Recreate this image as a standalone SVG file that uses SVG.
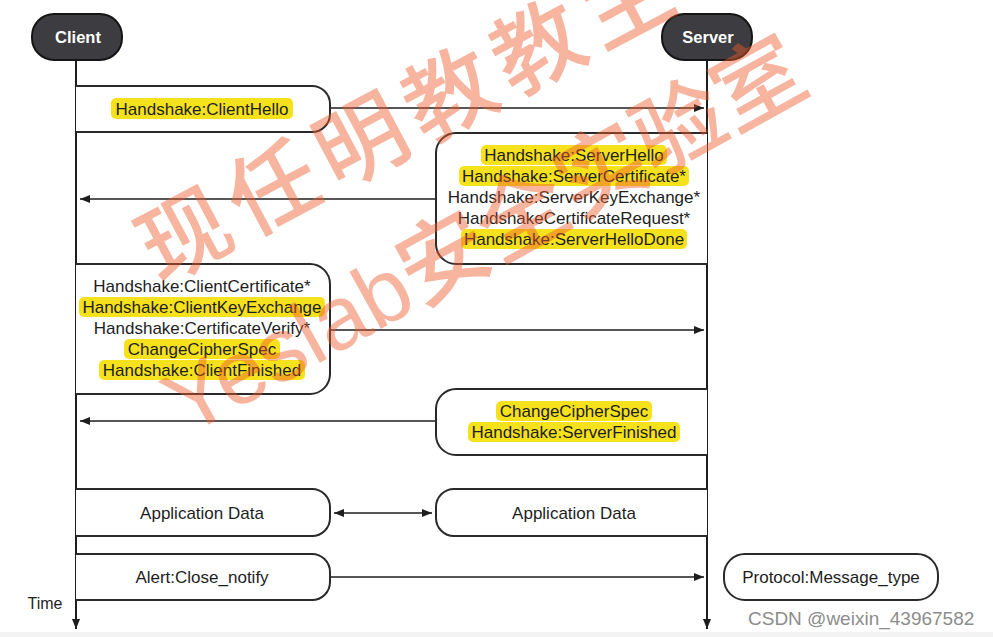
<svg xmlns="http://www.w3.org/2000/svg" width="993" height="637" viewBox="0 0 993 637">
<style>
  .bg { fill: #ffffff; }
  .actor { fill: #3d3c40; stroke: #151515; stroke-width: 2; }
  .actor-t { font-family: "Liberation Sans", Arial, sans-serif; font-weight: bold; font-size: 16.5px; fill: #ffffff; text-anchor: middle; }
  .box { fill: #ffffff; stroke: #2a2a2a; stroke-width: 2; }
  .t { font-family: "Liberation Sans", Arial, sans-serif; font-size: 17px; fill: #1e1e1e; text-anchor: middle; }
  .hl { fill: #f6e21c; }
  .life { stroke: #1e1e1e; stroke-width: 2; fill: none; }
  .msg { stroke: #1e1e1e; stroke-width: 1.6; fill: none; }
  .wm { font-family: "Liberation Sans", "Noto Sans CJK SC", sans-serif; font-weight: 500; fill: #ee5a2a; fill-opacity: 0.45; }
  .csdn { font-family: "Liberation Sans", Arial, sans-serif; font-size: 19px; fill: #8c8c8c; }
</style>
<defs>
  <marker id="ah" viewBox="0 0 10 8" refX="10" refY="4" markerWidth="10" markerHeight="8" orient="auto-start-reverse" markerUnits="userSpaceOnUse">
    <path d="M0,0 L10,4 L0,8 z" fill="#1e1e1e"/>
  </marker>
</defs>
<rect class="bg" x="0" y="0" width="993" height="637"/>
<rect x="0" y="632" width="993" height="5" fill="#f3f3f3"/>

<g id="connectors">
  <line class="life" x1="76" y1="60" x2="76" y2="629" marker-end="url(#ah)"/>
  <line class="life" x1="707" y1="60" x2="707" y2="629" marker-end="url(#ah)"/>
  <line class="msg" x1="330" y1="108" x2="704" y2="108" marker-end="url(#ah)"/>
  <line class="msg" x1="436" y1="199" x2="80" y2="199" marker-end="url(#ah)"/>
  <line class="msg" x1="330" y1="330" x2="704" y2="330" marker-end="url(#ah)"/>
  <line class="msg" x1="436" y1="421" x2="80" y2="421" marker-end="url(#ah)"/>
  <line class="msg" x1="334" y1="513" x2="432" y2="513" marker-start="url(#ah)" marker-end="url(#ah)"/>
  <line class="msg" x1="330" y1="577" x2="704" y2="577" marker-end="url(#ah)"/>
</g>

<g id="node-client">
  <rect class="actor" x="32" y="14" width="90" height="46" rx="22"/>
  <text class="actor-t" x="78" y="43">Client</text>
</g>
<g id="node-server">
  <rect class="actor" x="662" y="14" width="90" height="46" rx="22"/>
  <text class="actor-t" x="708" y="43">Server</text>
</g>

<g id="msg-clienthello">
  <path class="box" d="M76,86 H312 A18,18 0 0 1 330,104 V114 A18,18 0 0 1 312,132 H76"/>
  <rect class="hl" x="111" y="98" width="182" height="21" rx="5"/>
  <text class="t" x="202" y="115">Handshake:ClientHello</text>
</g>

<g id="msg-serverhello">
  <path class="box" d="M707,133 H456 A20,20 0 0 0 436,153 V244 A20,20 0 0 0 456,264 H707"/>
  <rect class="hl" x="481" y="145" width="186" height="20" rx="5"/>
  <rect class="hl" x="459" y="166" width="230" height="20" rx="5"/>
  <rect class="hl" x="461" y="229" width="226" height="20" rx="5"/>
  <text class="t" x="574" y="161">Handshake:ServerHello</text>
  <text class="t" x="574" y="182">Handshake:ServerCertificate*</text>
  <text class="t" x="574" y="203">Handshake:ServerKeyExchange*</text>
  <text class="t" x="574" y="224">HandshakeCertificateRequest*</text>
  <text class="t" x="574" y="245">Handshake:ServerHelloDone</text>
</g>

<g id="msg-clientkeyexchange">
  <path class="box" d="M76,264 H310 A20,20 0 0 1 330,284 V374 A20,20 0 0 1 310,394 H76"/>
  <rect class="hl" x="79" y="297" width="246" height="20" rx="5"/>
  <rect class="hl" x="124" y="339" width="156" height="20" rx="5"/>
  <rect class="hl" x="99" y="360" width="206" height="20" rx="5"/>
  <text class="t" x="202" y="292">Handshake:ClientCertificate*</text>
  <text class="t" x="202" y="313">Handshake:ClientKeyExchange</text>
  <text class="t" x="202" y="334">Handshake:CertificateVerify*</text>
  <text class="t" x="202" y="355">ChangeCipherSpec</text>
  <text class="t" x="202" y="376">Handshake:ClientFinished</text>
</g>

<g id="msg-serverfinished">
  <path class="box" d="M707,389 H456 A20,20 0 0 0 436,409 V435 A20,20 0 0 0 456,455 H707"/>
  <rect class="hl" x="496" y="401" width="156" height="20" rx="5"/>
  <rect class="hl" x="468" y="422" width="212" height="20" rx="5"/>
  <text class="t" x="574" y="417">ChangeCipherSpec</text>
  <text class="t" x="574" y="438">Handshake:ServerFinished</text>
</g>

<g id="msg-appdata-client">
  <path class="box" d="M76,489 H312 A18,18 0 0 1 330,507 V518 A18,18 0 0 1 312,536 H76"/>
  <text class="t" x="202" y="519">Application Data</text>
</g>
<g id="msg-appdata-server">
  <path class="box" d="M707,489 H454 A18,18 0 0 0 436,507 V518 A18,18 0 0 0 454,536 H707"/>
  <text class="t" x="574" y="519">Application Data</text>
</g>

<g id="msg-alert">
  <path class="box" d="M76,554 H312 A18,18 0 0 1 330,572 V582 A18,18 0 0 1 312,600 H76"/>
  <text class="t" x="202" y="583">Alert:Close_notify</text>
</g>

<g id="legend">
  <rect class="box" x="724" y="554" width="214" height="46" rx="21"/>
  <text class="t" x="831" y="583">Protocol:Message_type</text>
</g>

<g id="time-label">
  <text class="t" x="45" y="609" style="font-size:16px">Time</text>
</g>

<g id="watermark">
  <text class="wm" x="160" y="285" font-size="90" letter-spacing="10" transform="rotate(-28 160 285)">现任明教教主</text>
  <text class="wm" x="186" y="437" font-size="90" transform="rotate(-29 186 437)">Yeslab安全实验室</text>
  <text class="csdn" x="748" y="625">CSDN @weixin_43967582</text>
</g>
</svg>
